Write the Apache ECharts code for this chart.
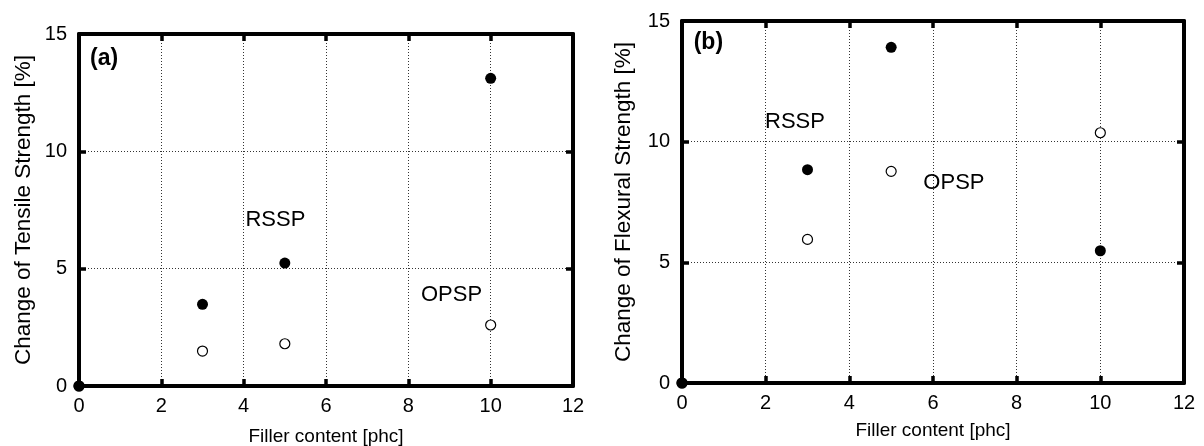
<!DOCTYPE html>
<html>
<head>
<meta charset="utf-8">
<script src="https://cdn.jsdelivr.net/npm/echarts@6/dist/echarts.min.js"></script>
<style>
  html, body { margin: 0; padding: 0; background: #fff; }
  #main { width: 1204px; height: 446px; }
</style>
</head>
<body>
<div id="main"></div>
<script>
// filler content [phc]
const fillerX = [0, 3, 5, 10]

// (a) tensile strength change [%]
const tensileRSSP = [0, 3.48, 5.24, 13.11]
const tensileOPSP = [0, 1.49, 1.80, 2.60]

// (b) flexural strength change [%]
const flexRSSP = [0, 8.84, 13.91, 5.48]
const flexOPSP = [0, 5.95, 8.77, 10.37]

const xTicks = [0, 2, 4, 6, 8, 10, 12]
const yTicks = [0, 5, 10, 15]

// text labels placed in data coordinates
const notesA = [['RSSP', 4.77, 7.07], ['OPSP', 9.05, 3.88]]
const notesB = [['RSSP', 2.70, 10.83], ['OPSP', 6.50, 8.29]]
const tagA = ['(a)', 0.61, 13.97]
const tagB = ['(b)', 0.63, 14.09]

const FONT = 'Liberation Sans, Arial, sans-serif'

const pairs = (xs, ys) => xs.map((x, i) => [x, ys[i]])

const frameLine = { show: true, onZero: false, lineStyle: { color: '#000', width: 4 } }
const tickIn = { show: true, inside: true, length: 7, lineStyle: { color: '#000', width: 3.5 } }
const dotted = { show: true, lineStyle: { color: '#333', width: 1, type: [1, 2] } }

const makeX = (gi, name, gap) => ([
  {
    gridIndex: gi, type: 'value', min: xTicks[0], max: xTicks[xTicks.length - 1], interval: 2,
    position: 'bottom',
    name: name, nameLocation: 'middle', nameGap: gap,
    nameTextStyle: { fontFamily: FONT, fontSize: 19, color: '#000' },
    axisLine: frameLine, axisTick: tickIn,
    axisLabel: { fontFamily: FONT, fontSize: 20, color: '#000', margin: 10 },
    splitLine: dotted
  },
  {
    gridIndex: gi, type: 'value', min: xTicks[0], max: xTicks[xTicks.length - 1], interval: 2,
    position: 'top',
    axisLine: frameLine, axisTick: tickIn,
    axisLabel: { show: false }, splitLine: { show: false }
  }
])

const makeY = (gi, name, gap) => ([
  {
    gridIndex: gi, type: 'value', min: yTicks[0], max: yTicks[yTicks.length - 1], interval: 5,
    position: 'left',
    name: name, nameLocation: 'middle', nameGap: gap,
    nameTextStyle: { fontFamily: FONT, fontSize: 22.5, color: '#000' },
    axisLine: frameLine, axisTick: tickIn,
    axisLabel: { fontFamily: FONT, fontSize: 20, color: '#000', margin: 12 },
    splitLine: dotted
  },
  {
    gridIndex: gi, type: 'value', min: yTicks[0], max: yTicks[yTicks.length - 1], interval: 5,
    position: 'right',
    axisLine: frameLine, axisTick: tickIn,
    axisLabel: { show: false }, splitLine: { show: false }
  }
])

const openSeries = (xi, yi, data) => ({
  type: 'scatter', xAxisIndex: xi, yAxisIndex: yi, clip: false, z: 3,
  symbol: 'circle', symbolSize: 10, data: data,
  itemStyle: { color: '#fff', borderColor: '#000', borderWidth: 1.2, opacity: 1 }
})

const filledSeries = (xi, yi, data) => ({
  type: 'scatter', xAxisIndex: xi, yAxisIndex: yi, clip: false, z: 4,
  symbol: 'circle', symbolSize: 11, data: data,
  itemStyle: { color: '#000', opacity: 1 }
})

const textSeries = (xi, yi, notes, size, bold) => ({
  type: 'scatter', xAxisIndex: xi, yAxisIndex: yi, clip: false, z: 5,
  symbol: 'circle', symbolSize: 1, silent: true,
  itemStyle: { color: 'rgba(0,0,0,0)', opacity: 1 },
  data: notes.map(n => ({ value: [n[1], n[2]], name: n[0] })),
  label: {
    show: true, position: 'inside', formatter: '{b}',
    fontFamily: FONT, fontSize: size, fontWeight: bold ? 'bold' : 'normal', color: '#000'
  }
})

const chart = echarts.init(document.getElementById('main'), null, { renderer: 'canvas' })

chart.setOption({
  animation: false,
  backgroundColor: '#fff',
  grid: [
    { left: 79, top: 34, width: 494, height: 352, outerBoundsMode: 'none', containLabel: false },
    { left: 682, top: 21, width: 502, height: 362, outerBoundsMode: 'none', containLabel: false }
  ],
  xAxis: [...makeX(0, 'Filler content [phc]', 41), ...makeX(1, 'Filler content [phc]', 38)],
  yAxis: [...makeY(0, 'Change of Tensile Strength [%]', 44), ...makeY(1, 'Change of Flexural Strength [%]', 47)],
  series: [
    openSeries(0, 0, pairs(fillerX, tensileOPSP)),
    filledSeries(0, 0, pairs(fillerX, tensileRSSP)),
    textSeries(0, 0, notesA, 22, false),
    textSeries(0, 0, [tagA], 23, true),
    openSeries(2, 2, pairs(fillerX, flexOPSP)),
    filledSeries(2, 2, pairs(fillerX, flexRSSP)),
    textSeries(2, 2, notesB, 22, false),
    textSeries(2, 2, [tagB], 23, true)
  ]
})
</script>
</body>
</html>
